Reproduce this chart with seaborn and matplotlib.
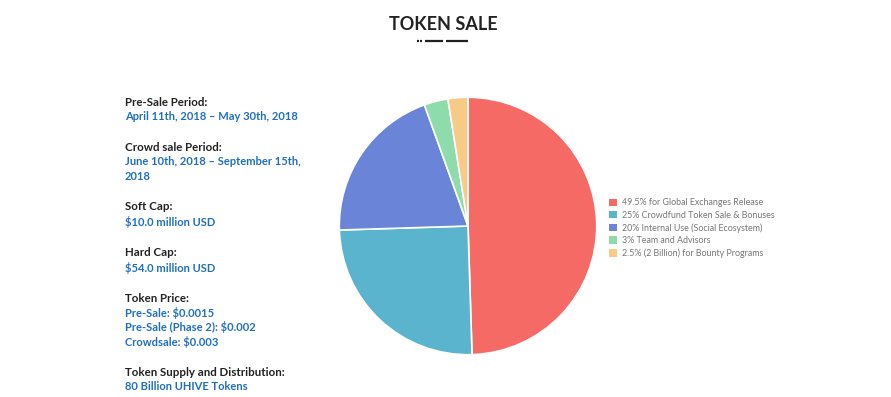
"""Token sale allocation pie with sale details."""

import matplotlib.pyplot as plt
import seaborn as sns
from matplotlib.patches import Patch
from matplotlib.lines import Line2D

shares = [49.5, 25, 20, 3, 2.5]
labels = [
    "49.5% for Global Exchanges Release",
    "25% Crowdfund Token Sale & Bonuses",
    "20% Internal Use (Social Ecosystem)",
    "3% Team and Advisors",
    "2.5% (2 Billion) for Bounty Programs",
]
colors = ["#f56a64", "#5bb4cd", "#6a84d7", "#8edcab", "#f7ca88"]

info_titles = [
    "Pre-Sale Period:",
    "Crowd sale Period:",
    "Soft Cap:",
    "Hard Cap:",
    "Token Price:",
    "Token Supply and Distribution:",
]
info_values = [
    ["April 11th, 2018 \u2013 May 30th, 2018"],
    ["June 10th, 2018 \u2013 September 15th,", "2018"],
    ["$10.0 million USD"],
    ["$54.0 million USD"],
    ["Pre-Sale: $0.0015", "Pre-Sale (Phase 2): $0.002", "Crowdsale: $0.003"],
    ["80 Billion UHIVE Tokens"],
]

sns.set_theme(style="white")
plt.rcParams["font.family"] = ["Lato", "DejaVu Sans"]

W, H = 891, 397
fig = plt.figure(figsize=(W / 100, H / 100), dpi=100)
fig.patch.set_facecolor("white")

# pie: centre (468, 226) px, radius 130 px
cx, cy, r = 468, 226, 130
ax = fig.add_axes([(cx - r) / W, (H - cy - r) / H, 2 * r / W, 2 * r / H])
ax.pie(
    shares,
    colors=colors,
    startangle=90,
    counterclock=False,
    radius=1,
    wedgeprops={"edgecolor": "white", "linewidth": 1.2},
)
ax.set_xlim(-1.01, 1.01)
ax.set_ylim(-1.01, 1.01)
ax.set_aspect("equal")
ax.axis("off")

handles = [Patch(facecolor=c, edgecolor="none") for c in colors]
fig.legend(
    handles,
    labels,
    loc="upper left",
    bbox_to_anchor=(605 / W, 1 - 194 / H),
    frameon=False,
    fontsize=6.4,
    labelcolor="#777777",
    handlelength=0.9,
    handleheight=0.9,
    handletextpad=0.5,
    labelspacing=0.38,
    borderpad=0,
)

# title and decoration
fig.text(443 / W, 1 - 25 / H, "TOKEN SALE", ha="center", va="center",
         fontsize=13, fontweight="bold", color="#222222")
deco_y = 1 - 41 / H
for x0, x1 in [(417, 419), (420, 422), (425, 443), (446, 468)]:
    fig.add_artist(Line2D([x0 / W, x1 / W], [deco_y, deco_y],
                          color="#222222", linewidth=1.6, solid_capstyle="butt"))

# sale details on the left
title_y = [102, 147, 207, 253, 298, 372]
line_h = 14.6
for title, values, y in zip(info_titles, info_values, title_y):
    fig.text(125 / W, 1 - y / H, title, ha="left", va="center",
             fontsize=8.3, fontweight="bold", color="#222222")
    for i, v in enumerate(values):
        fig.text(125 / W, 1 - (y + line_h * (i + 1)) / H, v, ha="left",
                 va="center", fontsize=8.0, fontweight="bold", color="#1f6fbf")

fig.savefig("out.png", dpi=100, facecolor="white")
